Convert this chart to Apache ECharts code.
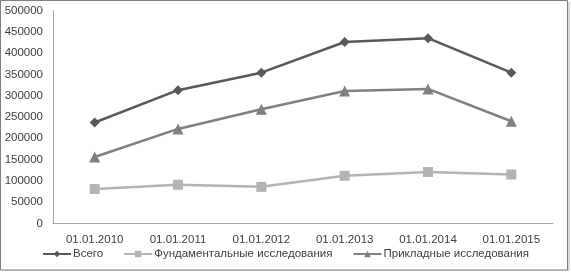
<!DOCTYPE html>
<html>
<head>
<meta charset="utf-8">
<script src="https://cdn.jsdelivr.net/npm/echarts@6/dist/echarts.min.js"></script>
<style>
html,body{margin:0;padding:0;background:#fff;}
#c{width:571px;height:272px;}
</style>
</head>
<body>
<div id="c"></div>
<script>
const categories = ['01.01.2010','01.01.2011','01.01.2012','01.01.2013','01.01.2014','01.01.2015'];
const seriesNames = ['Всего','Фундаментальные исследования','Прикладные исследования'];
const total = [237000, 313000, 354000, 426000, 435000, 354000];
const fundamental = [81000, 91000, 86000, 112000, 121000, 115000];
const applied = [156000, 222000, 268000, 311000, 316000, 240000];
const yTicks = [0, 500000, 50000]; // min, max, interval

const font = 'Liberation Sans, Arial, sans-serif';
const chart = echarts.init(document.getElementById('c'), null, {renderer:'canvas'});
chart.setOption({
  animation: false,
  backgroundColor: '#fff',
  graphic: [
    {type:'rect', shape:{x:2, y:2, width:568, height:269}, style:{fill:'#d9d9d9', stroke:null}, z:-2},
    {type:'rect', shape:{x:0.5, y:0.5, width:567, height:269.5}, style:{fill:'#fff', stroke:'#7f7f7f', lineWidth:1}, z:-1}
  ],
  grid: {left:53, right:18, top:10.5, bottom:48.5, containLabel:false},
  xAxis: {
    type:'category', data: categories, boundaryGap:true,
    axisLine:{show:true, lineStyle:{color:'#a6a6a6', width:1}},
    axisTick:{show:false},
    axisLabel:{color:'#404040', fontFamily:font, fontSize:11.5, margin:10}
  },
  yAxis: {
    type:'value', min:yTicks[0], max:yTicks[1], interval:yTicks[2],
    axisLine:{show:true, lineStyle:{color:'#a6a6a6', width:1}},
    axisTick:{show:false},
    splitLine:{show:false},
    axisLabel:{color:'#404040', fontFamily:font, fontSize:11.5, margin:10, formatter: v => String(v)}
  },
  legend: {
    bottom:7, left:'center', itemWidth:28, itemHeight:8, itemGap:20,
    textStyle:{color:'#404040', fontFamily:font, fontSize:11.5, padding:[0,0,0,-3]},
    data: seriesNames
  },
  series: [
    {name:seriesNames[0], type:'line', data: total, symbol:'diamond', symbolSize:10,
     lineStyle:{color:'#595959', width:2.5}, itemStyle:{color:'#595959'}},
    {name:seriesNames[1], type:'line', data: fundamental, symbol:'rect', symbolSize:10,
     lineStyle:{color:'#b4b4b4', width:2.5}, itemStyle:{color:'#b4b4b4'}},
    {name:seriesNames[2], type:'line', data: applied, symbol:'triangle', symbolSize:11,
     lineStyle:{color:'#808080', width:2.5}, itemStyle:{color:'#808080'}}
  ]
});
</script>
</body>
</html>
